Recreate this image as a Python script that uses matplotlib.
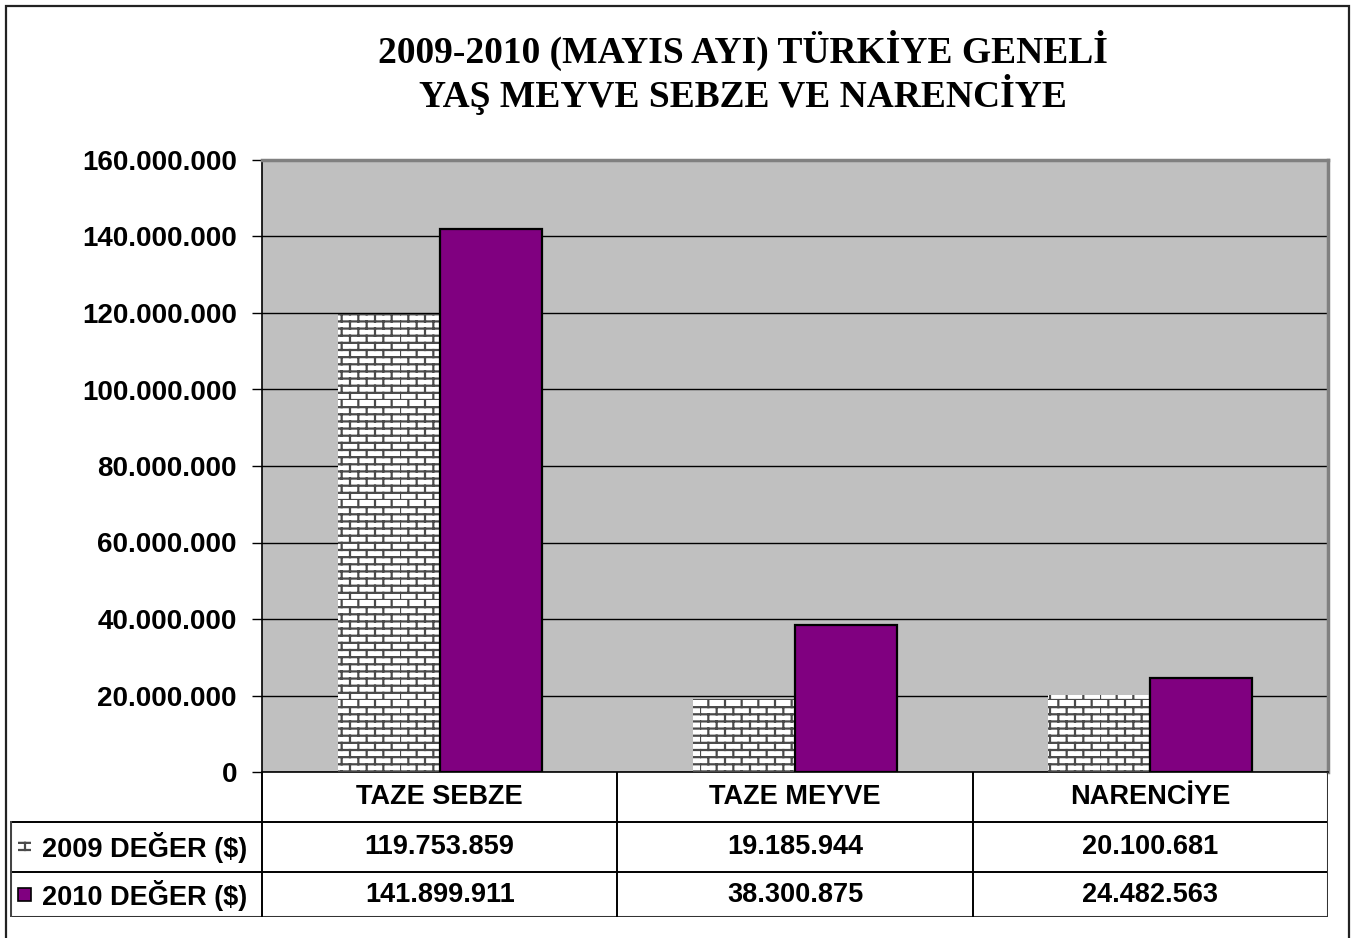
import warnings
import numpy as np
import matplotlib
matplotlib.use("Agg")
import matplotlib.pyplot as plt
from matplotlib import hatch as mhatch
from matplotlib.path import Path
from matplotlib.patches import Rectangle
from matplotlib.ticker import FuncFormatter

warnings.filterwarnings("ignore")

# data
categories = ["TAZE SEBZE", "TAZE MEYVE", "NARENCİYE"]
values_2009 = [119753859, 19185944, 20100681]
values_2010 = [141899911, 38300875, 24482563]
series_labels = ["2009 DEĞER ($)", "2010 DEĞER ($)"]
title_lines = ["2009-2010 (MAYIS AYI) TÜRKİYE GENELİ", "YAŞ MEYVE SEBZE VE NARENCİYE"]


# brick hatch (not built in) -> registered as 'b'
class BrickHatch(mhatch.HatchPatternBase):
    rows = 14
    cols = 6

    def __init__(self, hatch, density):
        self.num_vertices = (self.rows + self.rows * self.cols) * 2 if "b" in hatch else 0

    def set_vertices_and_codes(self, vertices, codes):
        h = 1.0 / self.rows
        w = 1.0 / self.cols
        pts = []
        for r in range(self.rows):
            y0 = r * h
            pts += [(0, y0), (1, y0)]
            off = 0 if r % 2 == 0 else w / 2
            for c in range(self.cols):
                x = c * w + off
                pts += [(x, y0), (x, y0 + h)]
        vertices[:] = np.array(pts)
        codes[0::2] = Path.MOVETO
        codes[1::2] = Path.LINETO


mhatch._hatch_types.append(BrickHatch)
plt.rcParams["hatch.linewidth"] = 1.6

W, H = 1353, 938
fig = plt.figure(figsize=(W / 100, H / 100), dpi=100, facecolor="white")

def px(x0, y0, x1, y1):
    return [x0 / W, 1 - y1 / H, (x1 - x0) / W, (y1 - y0) / H]

# outer frame
fig.add_artist(Rectangle((6 / W, -0.01), (1349 - 6) / W, 1 - 6 / H + 0.01,
                         transform=fig.transFigure, fill=False,
                         edgecolor="#222222", linewidth=1.6))

# title
for i, line in enumerate(title_lines):
    fig.text(743 / W, 1 - (63 + i * 44) / H, line, ha="center", va="baseline",
             fontsize=27, fontweight="bold", family="Liberation Serif")

# ── main plot ──
ax = fig.add_axes(px(262, 160, 1328, 772))
ax.set_facecolor("#C0C0C0")
x = np.arange(len(categories))
bw = 102 / 355.33

ax.bar(x - bw / 2, values_2009, bw, color="white", edgecolor="#4a4a4a",
       linewidth=0, hatch="b", zorder=3)
ax.bar(x + bw / 2, values_2010, bw, color="#800080", edgecolor="black",
       linewidth=1.6, zorder=3)

ax.set_xlim(-0.5, 2.5)
ax.set_ylim(0, 160000000)
ax.set_yticks(np.arange(0, 160000001, 20000000))
ax.yaxis.set_major_formatter(FuncFormatter(lambda v, p: f"{int(v):,}".replace(",", ".")))
ax.set_xticks([])
ax.grid(axis="y", color="black", linewidth=1.0, zorder=1)
ax.set_axisbelow(True)
ax.tick_params(axis="y", length=7, width=1, pad=11, labelsize=20)
for lab in ax.get_yticklabels():
    lab.set_fontweight("bold")
    lab.set_family("Liberation Sans")
ax.spines["left"].set_color("black")
ax.spines["bottom"].set_color("black")
ax.spines["top"].set_color("#808080")
ax.spines["right"].set_color("#808080")
ax.spines["top"].set_linewidth(2.5)
ax.spines["right"].set_linewidth(2.5)
ax.spines["left"].set_linewidth(1.2)
ax.spines["bottom"].set_linewidth(1.2)

# ── data table ──
left_u = -0.5 - 252 / 355.33
tax = fig.add_axes(px(10, 772, 1328, 917))
tax.set_xlim(left_u, 2.5)
tax.set_ylim(145, 0)
tax.axis("off")

lw = 1.4
tax.plot([left_u, 2.5], [50, 50], color="black", lw=lw)
tax.plot([left_u, 2.5], [100, 100], color="black", lw=lw)
tax.plot([left_u, 2.5], [145, 145], color="#333333", lw=2.2)
tax.plot([left_u, left_u], [50, 145], color="#444444", lw=2.2)
tax.plot([2.5, 2.5], [0, 145], color="#333333", lw=2.2)
for b in [-0.5, 0.5, 1.5]:
    tax.plot([b, b], [0, 145], color="black", lw=lw)

tfont = dict(fontsize=19.5, fontweight="bold", family="Liberation Sans")
for i, cat in enumerate(categories):
    tax.text(i, 25, cat, ha="center", va="center", **tfont)
    tax.text(i, 75, f"{values_2009[i]:,}".replace(",", "."), ha="center", va="center", **tfont)
    tax.text(i, 123, f"{values_2010[i]:,}".replace(",", "."), ha="center", va="center", **tfont)

ku = 1 / 355.33
tax.add_patch(Rectangle((left_u + 8 * ku, 68), 13 * ku, 14, facecolor="white",
                        edgecolor="#4a4a4a", linewidth=0, hatch="b"))
tax.add_patch(Rectangle((left_u + 8 * ku, 116), 13 * ku, 13, facecolor="#800080",
                        edgecolor="black", linewidth=1.2))
tax.text(left_u + 32 * ku, 75, series_labels[0], ha="left", va="center", **tfont)
tax.text(left_u + 32 * ku, 123, series_labels[1], ha="left", va="center", **tfont)

plt.savefig("out.png", dpi=100, facecolor="white")
plt.close()
